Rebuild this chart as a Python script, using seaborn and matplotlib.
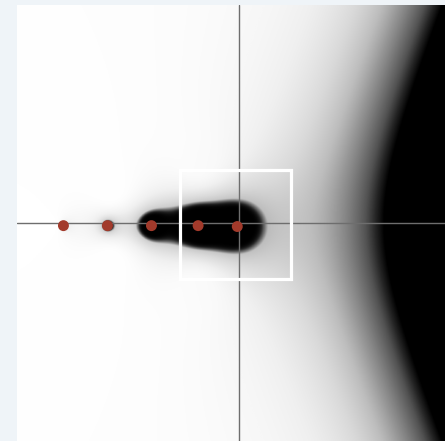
import numpy as np
import matplotlib
matplotlib.use("Agg")
import matplotlib.pyplot as plt
from matplotlib.patches import Rectangle
from math import factorial
import seaborn as sns
import pandas as pd

# Poles of Gamma marked along the negative real axis
dot_re = [-3.99, -2.99, -1.99, -0.93, -0.04]
dot_im = [-0.06, -0.06, -0.06, -0.06, -0.08]

# Current view window (lower-left corner, width, height)
window_x0, window_y0 = -1.334, -1.277
window_w, window_h = 2.523, 2.475

# Visible region of the complex plane
re_lim = (-5.045, 4.68)
im_lim = (-4.955, 4.955)

sns.set_theme(style="white")
fig = plt.figure(figsize=(4.45, 4.41), dpi=100, facecolor="#eff4f8")
ax = fig.add_axes([17 / 445, 0, 428 / 445, 436 / 441])

nx, ny = 700, 700
re = np.linspace(re_lim[0], re_lim[1], nx)
im = np.linspace(im_lim[0], im_lim[1], ny)
RE, IM = np.meshgrid(re, im)
Z = RE + 1j * IM

# Pole part of Gamma: sum of (-1)^n / (n! (z - p_n)) over the marked poles,
# plus the (nearly constant) regular part near the origin
poles = np.array(dot_re) + 1j * np.array(dot_im)
pole_sum = np.full_like(Z, 0.2)
for p in poles:
    n = int(round(-p.real))
    with np.errstate(divide="ignore", invalid="ignore"):
        pole_sum = pole_sum + (-1) ** n / (factorial(n) * (Z - p))
with np.errstate(divide="ignore"):
    logmag = np.log(np.abs(pole_sum))
logmag = np.nan_to_num(logmag, nan=10, posinf=10, neginf=-10)

# dark core around the poles with a soft halo
core = 1 / (1 + np.exp(-(logmag - 0.23) / 0.1))
halo = 0.3 * np.clip((logmag + 2.2) / 2.4, 0, 1) ** 2
g_pole = np.maximum(core, halo)

# growth towards +Re: soft ramp up to a hyperbolic front
front = 3.3 + np.sqrt(0.64 + 0.157 * IM ** 2) - 0.8
g_grow = np.exp(-0.75 * np.clip(front - RE, 0, None))

shade = 1 - (1 - g_pole) * (1 - g_grow)
ax.imshow(shade, origin="lower", extent=(*re_lim, *im_lim), cmap="Greys",
          vmin=0, vmax=1, interpolation="bilinear", aspect="auto", zorder=0)

# Real and imaginary axes
ax.axhline(0, color="#6e6e6e", lw=1.0, zorder=1)
ax.axvline(0, color="#6e6e6e", lw=1.0, zorder=1)

# View window
ax.add_patch(Rectangle((window_x0, window_y0), window_w, window_h,
                       fill=False, edgecolor="white", lw=2.3, zorder=3))

# Poles
df = pd.DataFrame({"re": dot_re, "im": dot_im})
sns.scatterplot(data=df, x="re", y="im", ax=ax, color="#a23a2b", s=62,
                edgecolor="none", linewidth=0, zorder=4, legend=False)

ax.set_xlim(*re_lim)
ax.set_ylim(*im_lim)
ax.set_axis_off()
fig.savefig("out.png", dpi=100, facecolor=fig.get_facecolor())
